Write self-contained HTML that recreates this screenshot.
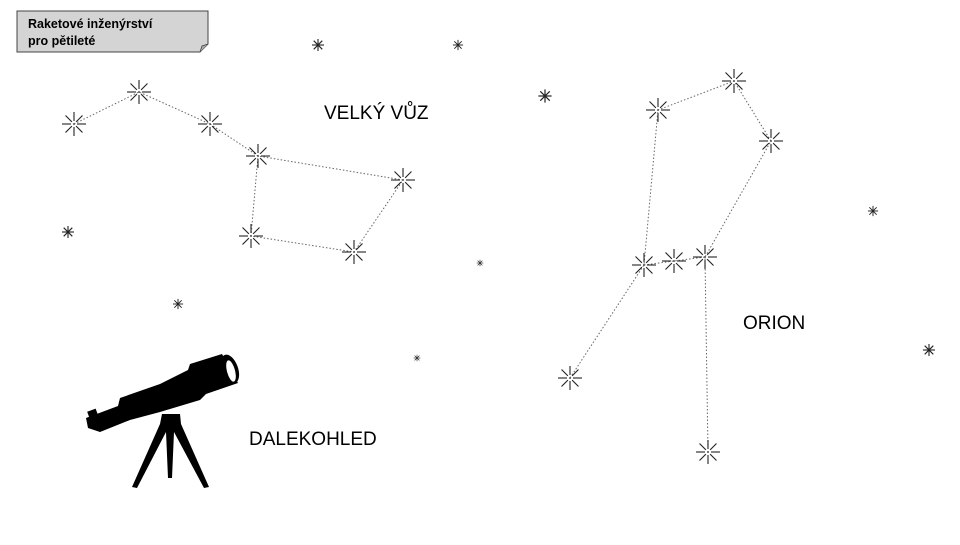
<!DOCTYPE html>
<html><head><meta charset="utf-8"><style>
body{margin:0;background:#fff;width:960px;height:540px;overflow:hidden;font-family:"Liberation Sans",sans-serif}
</style></head><body>
<svg width="960" height="540" viewBox="0 0 960 540" xmlns="http://www.w3.org/2000/svg">
<defs>
<g id="s"><g stroke="#222" stroke-width="1.1" vector-effect="non-scaling-stroke">
<line x1="0" y1="-3" x2="0" y2="-12" vector-effect="non-scaling-stroke"/><line x1="0" y1="3" x2="0" y2="12" vector-effect="non-scaling-stroke"/>
<line x1="-3" y1="0" x2="-12" y2="0" vector-effect="non-scaling-stroke"/><line x1="3" y1="0" x2="12" y2="0" vector-effect="non-scaling-stroke"/>
<line x1="2.1" y1="2.1" x2="8.5" y2="8.5" vector-effect="non-scaling-stroke"/><line x1="-2.1" y1="-2.1" x2="-8.5" y2="-8.5" vector-effect="non-scaling-stroke"/>
<line x1="2.1" y1="-2.1" x2="8.5" y2="-8.5" vector-effect="non-scaling-stroke"/><line x1="-2.1" y1="2.1" x2="-8.5" y2="8.5" vector-effect="non-scaling-stroke"/>
</g><circle r="1" fill="#555"/></g>
<g id="t"><g stroke="#222" stroke-width="1.1">
<line x1="0" y1="-6" x2="0" y2="6"/><line x1="-6" y1="0" x2="6" y2="0"/>
<line x1="-4.3" y1="-4.3" x2="4.3" y2="4.3"/><line x1="-4.3" y1="4.3" x2="4.3" y2="-4.3"/>
</g></g>
</defs>
<path d="M17 11 H208 V44 L200 52 H17 Z" fill="#d4d4d4" stroke="#444" stroke-width="1"/>
<path d="M200 52 L202 46 L208 44" fill="#aaa" stroke="#444" stroke-width="0.8"/>
<text x="28" y="28" font-size="12.5" font-weight="bold" fill="#000">Raketové inženýrství</text>
<text x="28" y="45" font-size="12.5" font-weight="bold" fill="#000">pro pětileté</text>
<g stroke="#666" stroke-width="1" stroke-dasharray="1.5,2" fill="none">
<polyline points="74,124 139,92 210,124 258,156 403,180 354,252 251,236 258,156"/>
<polyline points="570,378 644,265 658,110 734,81 771,141 705,257 708,452"/>
<polyline points="644,265 674,261 705,257"/>
</g>
<use href="#s" x="74" y="124"/><use href="#s" x="139" y="92"/><use href="#s" x="210" y="124"/>
<use href="#s" x="258" y="156"/><use href="#s" x="403" y="180"/><use href="#s" x="354" y="252"/>
<use href="#s" x="251" y="236"/>
<use href="#s" x="658" y="110"/><use href="#s" x="734" y="81"/><use href="#s" x="771" y="141"/>
<use href="#s" x="644" y="265"/><use href="#s" x="674" y="261"/><use href="#s" x="705" y="257"/>
<use href="#s" x="570" y="378"/><use href="#s" x="708" y="452"/>
<use href="#t" transform="translate(318,45)"/>
<use href="#t" transform="translate(458,45) scale(0.85)"/>
<use href="#t" transform="translate(545,96) scale(1.1)"/>
<use href="#t" transform="translate(68,232)"/>
<use href="#t" transform="translate(178,304) scale(0.85)"/>
<use href="#t" transform="translate(480,263) scale(0.55)"/>
<use href="#t" transform="translate(417,358) scale(0.55)"/>
<use href="#t" transform="translate(873,211) scale(0.85)"/>
<use href="#t" transform="translate(929,350)"/>
<text x="324" y="119" font-size="19" fill="#000">VELKÝ VŮZ</text>
<text x="743" y="329" font-size="19" fill="#000">ORION</text>
<text x="249" y="445" font-size="19" fill="#000">DALEKOHLED</text>
<g fill="#000">
<rect x="89" y="410" width="9" height="11" transform="rotate(-20 93 416)"/>
<path d="M86 418 L118 406 L120 398 L160 384 L188 370 L190 364 L222 354 L238 383 L206 394 L200 400 L160 412 L130 420 L100 432 L88 428 Z"/>
<ellipse cx="230" cy="369" rx="8" ry="15" transform="rotate(-20 230 369)"/>
<path d="M162 414 L180 414 L181 424 L209 487 L204 488 L174 432 L172 478 L168 478 L166 432 L137 488 L132 487 L160 424 Z"/>
</g>
<ellipse cx="231" cy="371" rx="4" ry="11" fill="#fff" transform="rotate(-15 231 371)"/>
</svg>
</body></html>
